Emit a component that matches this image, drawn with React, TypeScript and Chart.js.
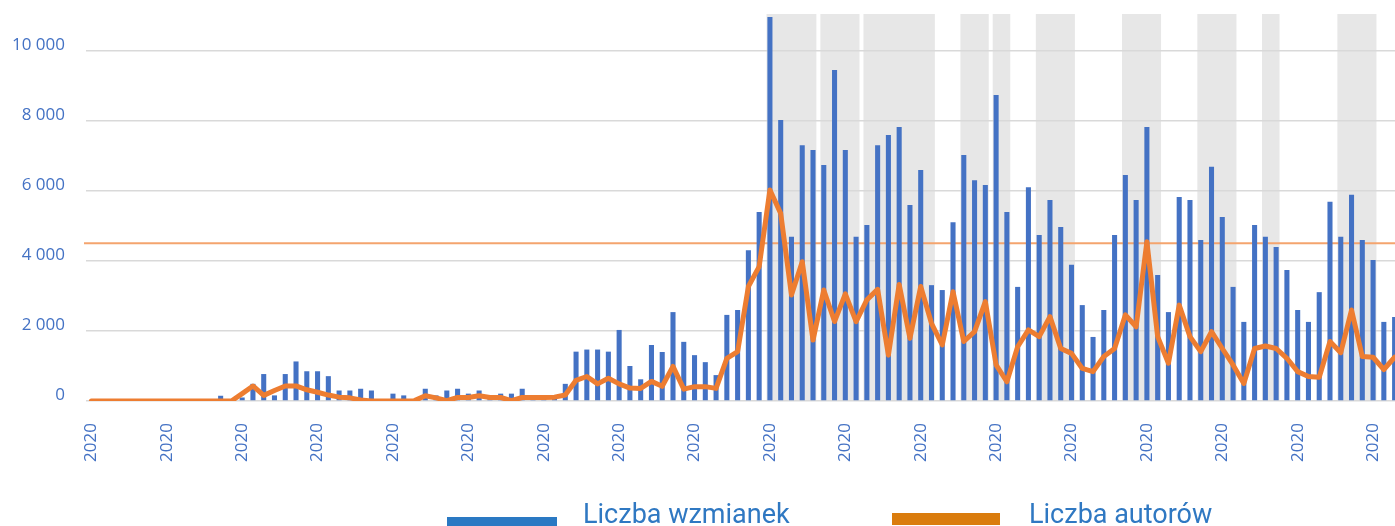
import React, { useEffect, useRef } from 'react';
import { Chart, registerables } from 'chart.js';

Chart.register(...registerables);

// ---- data ----
const mentions: number[] = [
  0, 0, 0, 0, 0, 0, 0, 0, 0, 0,
  0, 0, 150, 0, 100, 490, 770, 160, 770, 1130,
  850, 850, 710, 300, 300, 350, 300, 0, 210, 160,
  0, 350, 160, 300, 350, 210, 300, 50, 210, 210,
  350, 50, 150, 150, 490, 1410, 1470, 1470, 1410, 2030,
  1000, 620, 1600, 1400, 2540, 1690, 1310, 1110, 740, 2460,
  2600, 4310, 5400, 10970, 8030, 4690, 7310, 7170, 6740, 9460,
  7170, 4690, 5030, 7310, 7600, 7830, 5600, 6600, 3310, 3170,
  5110, 7030, 6310, 6170, 8740, 5400, 3260, 6110, 4740, 5740,
  4970, 3890, 2740, 1830, 2600, 4740, 6460, 5740, 7830, 3600,
  2540, 5830, 5740, 4600, 6690, 5260, 3260, 2260, 5030, 4690,
  4400, 3740, 2600, 2260, 3110, 5690, 4690, 5890, 4600, 4030,
  2260, 2400,
];

const authors: number[] = [
  0, 0, 0, 0, 0, 0, 0, 0, 0, 0,
  0, 0, 0, 0, 210, 430, 160, 300, 430, 430,
  320, 250, 170, 110, 90, 30, 0, 0, 0, 0,
  10, 150, 90, 10, 100, 100, 150, 100, 100, 10,
  100, 100, 100, 110, 170, 590, 700, 490, 650, 490,
  370, 360, 560, 420, 990, 340, 410, 410, 360, 1220,
  1410, 3270, 3840, 6030, 5360, 3030, 3980, 1740, 3170, 2270,
  3060, 2270, 2890, 3190, 1310, 3330, 1790, 3270, 2220, 1600,
  3120, 1700, 1980, 2840, 1030, 550, 1550, 2030, 1840, 2410,
  1500, 1360, 930, 840, 1270, 1500, 2460, 2120, 4550, 1840,
  1080, 2740, 1840, 1410, 1980, 1500, 1030, 500, 1500, 1570,
  1500, 1220, 840, 700, 680, 1700, 1380, 2600, 1270, 1250,
  900, 1250,
];

// one category per day (all in 2020); the axis shows the year every 7th day
const categories: string[] = mentions.map((_, i) => `2020 – dzień ${i + 1}`);
const xTickLabel = '2020';
const xTickStep = 7;

// shaded periods: [first day index, last day index]
const shadedRanges: [number, number][] = [
  [63, 67], [68, 71], [72, 78], [81, 83], [84, 85],
  [88, 91], [96, 99], [103, 106], [109, 110], [116, 119],
];

const referenceLevel = 4510;
const yMax = 11000;
const yTicks: number[] = [0, 2000, 4000, 6000, 8000, 10000];
const seriesNames = ['Liczba wzmianek', 'Liczba autorów'];

const fmt = (v: number) => String(Math.round(v)).replace(/\B(?=(\d{3})+(?!\d))/g, ' ');

const bandsPlugin = {
  id: 'bands',
  beforeDraw(chart: any) {
    const { ctx, chartArea, scales } = chart;
    const x = scales.x;
    const half = (x.getPixelForValue(1) - x.getPixelForValue(0)) / 2;
    ctx.save();
    ctx.fillStyle = '#E7E7E7';
    for (const [a, b] of shadedRanges) {
      const x0 = x.getPixelForValue(a) - half + 2;
      const x1 = x.getPixelForValue(b) + half - 2;
      ctx.fillRect(x0, chartArea.top - 2, x1 - x0, chartArea.bottom - chartArea.top + 2);
    }
    ctx.restore();
  },
};

const refLinePlugin = {
  id: 'refLine',
  beforeDatasetsDraw(chart: any) {
    const { ctx, chartArea, scales } = chart;
    const y = scales.y.getPixelForValue(referenceLevel);
    ctx.save();
    ctx.strokeStyle = '#F4A46E';
    ctx.lineWidth = 2;
    ctx.beginPath();
    ctx.moveTo(chartArea.left - 2, y);
    ctx.lineTo(chartArea.right, y);
    ctx.stroke();
    ctx.restore();
  },
};

export default function App() {
  const canvasRef = useRef<HTMLCanvasElement>(null);

  useEffect(() => {
    const canvas = canvasRef.current;
    if (!canvas) return;
    const chart = new Chart(canvas, {
      type: 'bar',
      data: {
        labels: categories,
        datasets: [
          {
            type: 'line',
            label: seriesNames[1],
            data: authors,
            borderColor: '#ED7D31',
            backgroundColor: '#ED7D31',
            borderWidth: 5,
            pointRadius: 0,
            tension: 0,
            borderJoinStyle: 'round',
            borderCapStyle: 'round',
            order: 0,
          } as any,
          {
            type: 'bar',
            label: seriesNames[0],
            data: mentions,
            backgroundColor: '#4472C4',
            borderWidth: 0,
            barPercentage: 0.47,
            categoryPercentage: 1,
            order: 1,
          },
        ],
      },
      options: {
        responsive: false,
        animation: false,
        devicePixelRatio: 1,
        events: [],
        layout: { padding: { top: 16, left: 0, right: 0, bottom: 0 } },
        plugins: {
          legend: { display: false },
          tooltip: { enabled: false },
        },
        scales: {
          x: {
            offset: true,
            grid: { display: false, drawTicks: false },
            border: { display: false },
            ticks: {
              autoSkip: false,
              minRotation: 90,
              maxRotation: 90,
              padding: 22,
              color: '#4472C4',
              font: { family: 'Open Sans', size: 17 },
              callback: (_v: any, i: number) => (i % xTickStep === 0 ? xTickLabel : ''),
            },
            afterFit: (s: any) => {
              s.height = 125;
              s.paddingLeft = 0;
              s.paddingRight = 0;
            },
          },
          y: {
            min: 0,
            max: yMax,
            grid: { color: '#D9D9D9', lineWidth: 1.5, drawTicks: false },
            border: { display: false },
            ticks: {
              padding: 21,
              labelOffset: -6,
              color: '#4472C4',
              font: { family: 'Open Sans', size: 17 },
              callback: (v: any) => fmt(Number(v)),
            },
            afterBuildTicks: (axis: any) => {
              axis.ticks = yTicks.map((value) => ({ value }));
            },
            afterFit: (s: any) => {
              s.width = 86;
              s.paddingTop = 0;
              s.paddingBottom = 0;
            },
          },
        },
      } as any,
      plugins: [bandsPlugin, refLinePlugin],
    });
    return () => chart.destroy();
  }, []);

  const legendText: React.CSSProperties = {
    position: 'absolute',
    font: '27px Roboto',
    lineHeight: '32px',
    color: '#2F78C2',
    whiteSpace: 'nowrap',
  };

  return (
    <div
      style={{
        position: 'fixed',
        left: 0,
        top: 0,
        width: 1395,
        height: 526,
        overflow: 'hidden',
        background: '#ffffff',
      }}
    >
      <canvas
        ref={canvasRef}
        width={1400}
        height={526}
        style={{ display: 'block', width: 1400, height: 526 }}
      />
      <div style={{ position: 'absolute', left: 447, top: 517, width: 110, height: 14, background: '#2A79C3' }} />
      <div style={{ ...legendText, left: 583, top: 498 }}>{seriesNames[0]}</div>
      <div style={{ position: 'absolute', left: 892, top: 513, width: 108, height: 12, background: '#DA7C0D' }} />
      <div style={{ ...legendText, left: 1029, top: 498 }}>{seriesNames[1]}</div>
    </div>
  );
}
